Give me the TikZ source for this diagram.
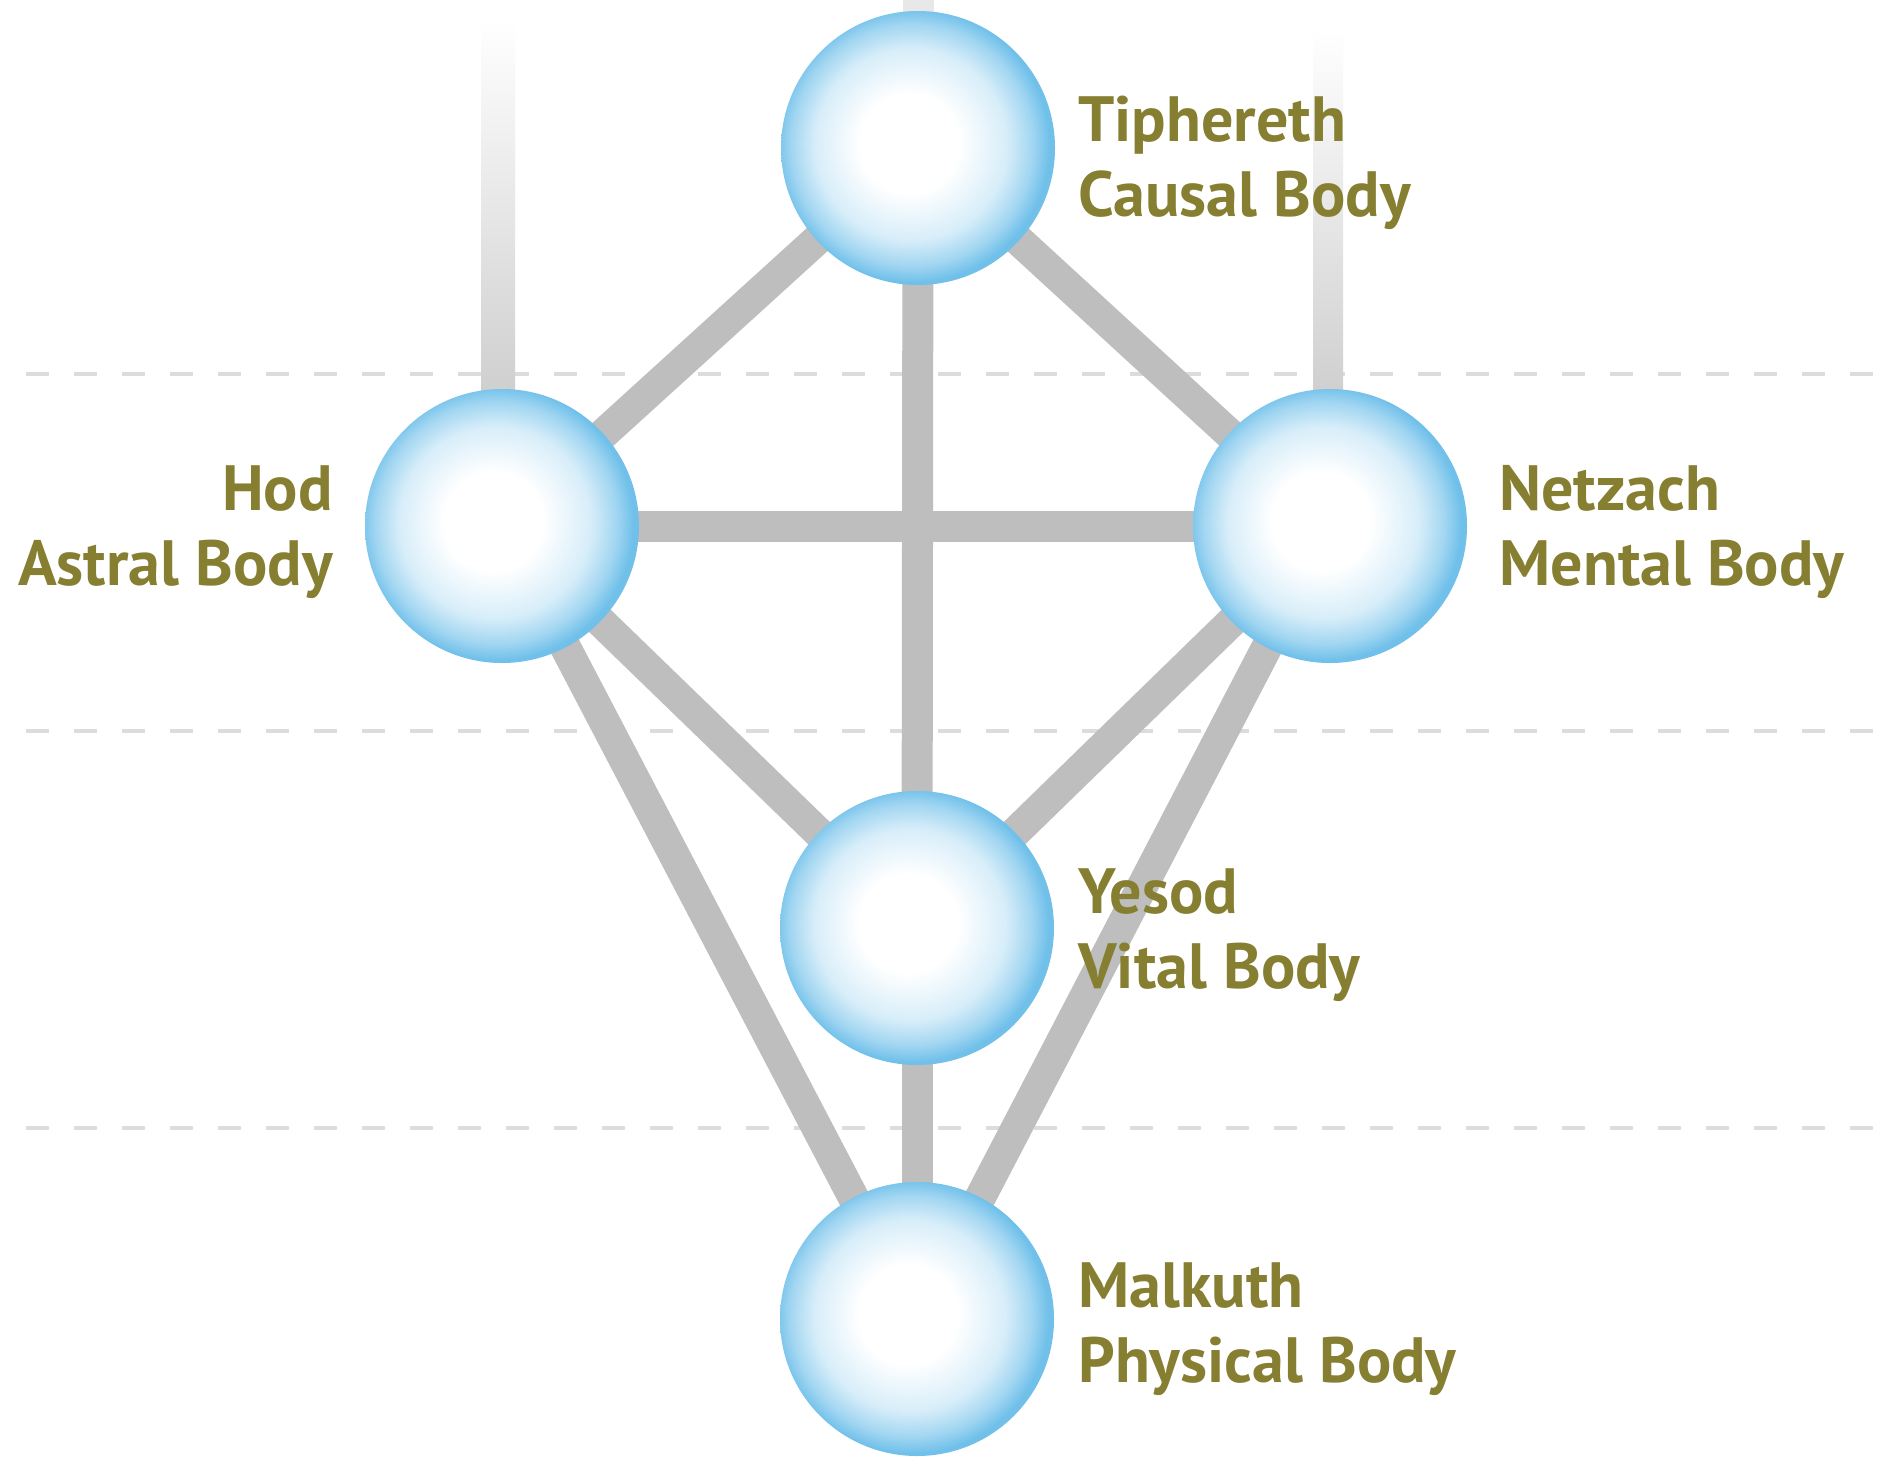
\documentclass[tikz,border=0pt]{standalone}
\usepackage{fontspec}
\setmainfont{PT Sans}
\usetikzlibrary{backgrounds}

\definecolor{orbblue}{RGB}{112,192,234}
\definecolor{pathgray}{RGB}{190,190,190}
\definecolor{planegray}{RGB}{220,220,220}
\definecolor{labelolive}{RGB}{134,126,48}
\pgfdeclareradialshading{orb}{\pgfpoint{-2bp}{1bp}}{color(0bp)=(white); color(9bp)=(white); color(17.5bp)=(orbblue!28); color(22bp)=(orbblue!65); color(25bp)=(orbblue); color(50bp)=(orbblue)}
\newcommand\labelfont{\fontsize{64}{75}\selectfont\bfseries}

\begin{document}
\begin{tikzpicture}[x=1pt, y=-1pt]
        \tikzstyle{sphere}=[circle, minimum size=274pt, inner sep=0pt, shading=orb]
        \tikzstyle{bar}=[line width=31pt, pathgray]
        \tikzstyle{plane}=[line width=4pt, planegray, dash pattern=on 23pt off 25pt]
        \tikzstyle{bodytext}=[text=labelolive, font=\labelfont, inner sep=0pt]

        \useasboundingbox (0,0) rectangle (1885,1457);

        \node[sphere](tiph) at (918,148){};
        \node[sphere](hod) at (502,526){};
        \node[sphere](netz) at (1330,526){};
        \node[sphere](yesod) at (917,928){};
        \node[sphere](malk) at (917,1319){};

        \coordinate (tiphtop) at (918,0);
        \coordinate (hodtop) at (494,20);
        \coordinate (netztop) at (1326,30);

        \node[bodytext, anchor=west, align=left](tiphname) at ([xshift=23pt, yshift=-15pt]tiph.east){Tiphereth\\Causal Body};
        \node[bodytext, anchor=east, align=right](hodname) at ([xshift=-32pt, yshift=-6pt]hod.west){Hod\\Astral Body};
        \node[bodytext, anchor=west, align=left](netzname) at ([xshift=32pt, yshift=-6pt]netz.east){Netzach\\Mental Body};
        \node[bodytext, anchor=west, align=left](yesodname) at ([xshift=24pt, yshift=-7pt]yesod.east){Yesod\\Vital Body};
        \node[bodytext, anchor=west, align=left](malkname) at ([xshift=24pt, yshift=-10pt]malk.east){Malkuth\\Physical Body};

        \begin{pgfonlayer}{background}
        \fill[white] (0,0) rectangle (1885,1457);
        \foreach \y in {374,731,1128}
            \draw[plane] (26,\y) -- (1878,\y);

        \shade[top color=white, bottom color=pathgray] ([xshift=-13pt]hodtop) rectangle ([xshift=13pt]hod.center);
        \shade[top color=white, bottom color=pathgray] ([xshift=-13pt]netztop) rectangle ([xshift=13pt]netz.center);
        \draw[bar, pathgray!35] (tiphtop) -- (tiph.center);

        \draw[bar] (tiph.center) -- (hod.center);
        \draw[bar] (tiph.center) -- (netz.center);
        \draw[bar] (tiph.center) -- (yesod.center);
        \draw[bar] (hod.center) -- (netz.center);
        \draw[bar] (hod.center) -- (yesod.center);
        \draw[bar] (netz.center) -- (yesod.center);
        \draw[bar] (hod.center) -- (malk.center);
        \draw[bar] (netz.center) -- (malk.center);
        \draw[bar] (yesod.center) -- (malk.center);
        \end{pgfonlayer}
\end{tikzpicture}
\end{document}
